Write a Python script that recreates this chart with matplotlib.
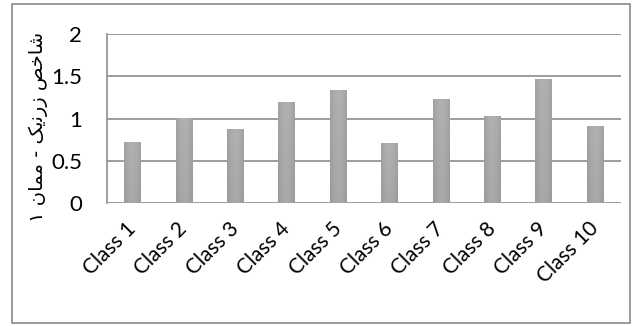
import matplotlib
matplotlib.use("Agg")
import numpy as np
import matplotlib.pyplot as plt
from matplotlib.patches import Rectangle

classes = ["Class 1", "Class 2", "Class 3", "Class 4", "Class 5",
           "Class 6", "Class 7", "Class 8", "Class 9", "Class 10"]
values = [0.72, 1.01, 0.88, 1.19, 1.34, 0.71, 1.23, 1.03, 1.47, 0.91]
yticks = [0, 0.5, 1, 1.5, 2]
yticklabels = ["0", "0.5", "1", "1.5", "2"]

# "شاخص زرنیک - ممان ۱" in shaped presentation forms, visual order
ylabel = ("\u06F1 \uFEE5\uFE8E\uFEE4\uFEE3 - "
          "\uFB8F\uFBFE\uFEE7\uFEAD\uFEAF "
          "\uFEBA\uFEA7\uFE8E\uFEB7")

plt.rcParams['font.family'] = ['Lato', 'DejaVu Sans']

fig = plt.figure(figsize=(6.37, 3.26), dpi=100)
ax = fig.add_axes([0.168, 0.377, 0.807, 0.519])

x = np.arange(len(classes))
bars = ax.bar(x, values, width=0.33, color='#9c9c9c', zorder=3)

# soft grey shading inside each bar: darker at the sides and bottom
u = np.linspace(-1, 1, 40)
v = np.linspace(0, 1, 60)[:, None]
shade = 0.60 + 0.06 * (1 - u[None, :] ** 2) + 0.03 * v
for b in bars:
    im = ax.imshow(shade, cmap='gray', vmin=0, vmax=1, aspect='auto',
                   origin='lower', interpolation='bilinear', zorder=4,
                   extent=[b.get_x(), b.get_x() + b.get_width(),
                           0, b.get_height()])
    im.set_clip_path(b)

ax.set_xlim(-0.5, len(classes) - 0.5)
ax.set_ylim(0, 2)
ax.set_yticks(yticks)
ax.set_yticklabels(yticklabels, fontsize=16)
ax.set_xticks(list(x))
ax.set_xticklabels(classes, fontsize=15, rotation=45, ha='right',
                   va='center', rotation_mode='anchor')
ax.tick_params(axis='y', length=0, pad=18)
ax.tick_params(axis='x', length=0, pad=16)
ax.yaxis.grid(True, color='#8c8c8c', linewidth=1.2, zorder=0)

for side in ['top', 'right', 'bottom']:
    ax.spines[side].set_visible(False)
ax.spines['left'].set_color('#8c8c8c')
ax.spines['left'].set_linewidth(1.2)

ax.set_ylabel(ylabel, fontsize=14, family=['DejaVu Sans'])
ax.yaxis.set_label_coords(-0.115, 0.45)

# outer frame around the chart
fig.patches.append(Rectangle((0.0188, 0.0092), 0.9702, 0.9785,
                             transform=fig.transFigure, fill=False,
                             edgecolor='#8a8a8a', linewidth=1.2))

fig.savefig("out.png", dpi=100)
